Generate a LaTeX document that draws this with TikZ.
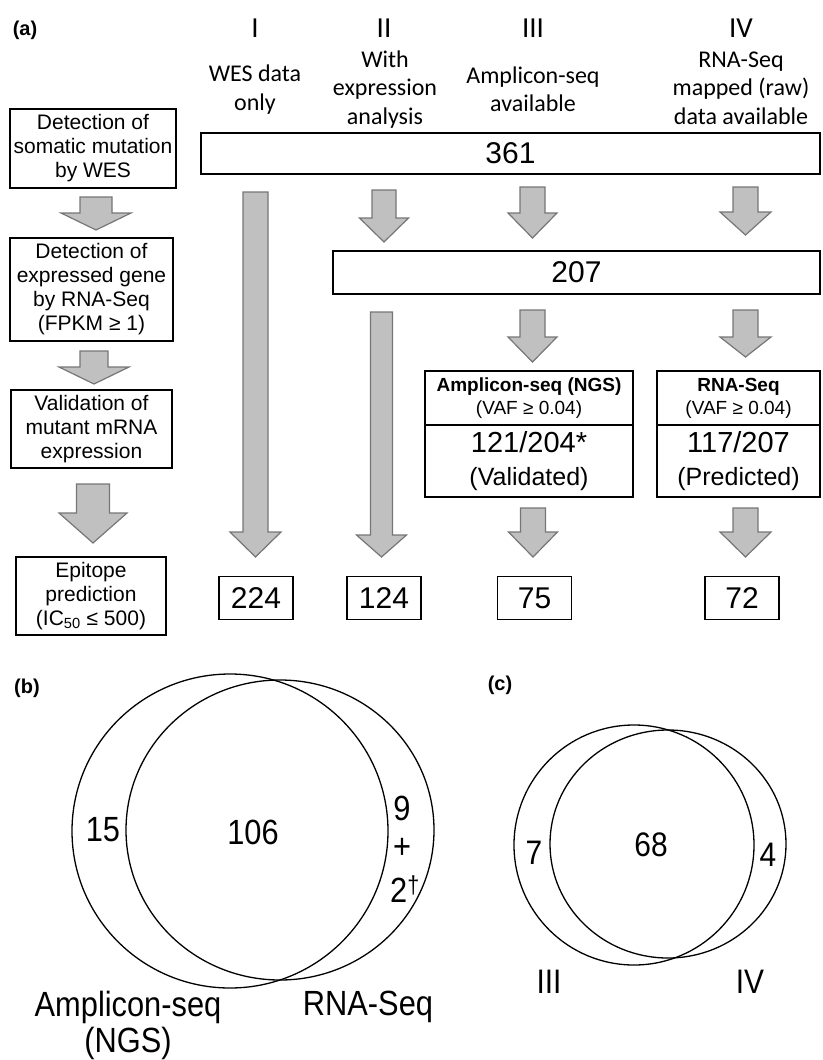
\documentclass[tikz,border=0pt]{standalone}
\usepackage{fontspec}
\setmainfont{Liberation Sans}
\newfontfamily\hdrfont{Carlito}
\newfontfamily\narrowfont[FakeStretch=0.88]{Liberation Sans}
\usetikzlibrary{shapes.geometric}
\definecolor{arrowFill}{HTML}{C0C0C0}
\definecolor{arrowLine}{HTML}{767676}

\tikzset{
  stepbox/.style={draw, line width=1.7pt, align=center, inner sep=0pt,
                  font=\fontsize{21}{24}\selectfont},
  countbox/.style={draw, line width=1.7pt, inner sep=0pt,
                   font=\fontsize{30}{34}\selectfont},
  hdr/.style={align=center, inner sep=0pt, font=\hdrfont\fontsize{24}{28.5}\selectfont},
  roman/.style={inner sep=0pt, font=\hdrfont\fontsize{29}{34}\selectfont},
  panel/.style={inner sep=0pt, font=\bfseries\fontsize{20}{24}\selectfont},
  vennlbl/.style={inner sep=0pt, font=\narrowfont\fontsize{35}{36}\selectfont},
  vennset/.style={ellipse, draw, line width=1.3pt, inner sep=0pt},
  fatarr/.style={fill=arrowFill, draw=arrowLine, line width=1.2pt, line join=miter},
}
% x, top, head start, tip, half shaft, half head
\newcommand{\fatarrow}[6]{%
  \draw[fatarr] ({#1-#5},#2) -- ({#1-#5},#3) -- ({#1-#6},#3) -- (#1,#4)
    -- ({#1+#6},#3) -- ({#1+#5},#3) -- ({#1+#5},#2) -- cycle;}

\begin{document}
\begin{tikzpicture}[x=1pt, y=-1pt]
  \useasboundingbox (0,0) rectangle (822,1060);

  % ---- (a) ----
  \node[panel] (pa) at (25,30) {(a)};

  \node[stepbox, minimum width=166, minimum height=79] (detWES) at (93,148.5)
    {Detection of\\somatic mutation\\by WES};
  \node[stepbox, minimum width=163, minimum height=103] (detRNA) at (91.5,289.5)
    {Detection of\\expressed gene\\by RNA-Seq\\(FPKM ≥ 1)};
  \node[stepbox, minimum width=161, minimum height=78] (validMut) at (91.5,429)
    {Validation of\\mutant mRNA\\expression};
  \node[stepbox, minimum width=150, minimum height=78] (epiPred) at (91,596)
    {Epitope\\prediction\\(IC\textsubscript{50} ≤ 500)};

  \foreach \x/\r in {255/I, 384/II, 533/III, 741/IV}
    \node[roman] (col\r) at (\x,28) {\r};
  \node[hdr] (hdrI)   at (255,89.5) {WES data\\only};
  \node[hdr] (hdrII)  at (385,89.5) {With\\expression\\analysis};
  \node[hdr] (hdrIII) at (533,89.5) {Amplicon-seq\\available};
  \node[hdr] (hdrIV)  at (741,88)   {RNA-Seq\\mapped (raw)\\data available};

  \node[countbox, minimum width=619, minimum height=41] (n361) at (510.5,153.5) {361};
  \node[countbox, minimum width=487, minimum height=43] (n207) at (576.5,272.5) {207};

  \node[stepbox, minimum width=208, minimum height=54, font=\fontsize{19}{23}\selectfont]
    (ampHead) at (529,398) {\textbf{Amplicon-seq (NGS)}\\(VAF ≥ 0.04)};
  \node[stepbox, minimum width=208, minimum height=72, font=\fontsize{25}{33}\selectfont]
    (ampVal) at (529,461) {{\fontsize{29}{33}\selectfont 121/204*}\\(Validated)};
  \node[stepbox, minimum width=163, minimum height=54, font=\fontsize{19}{23}\selectfont]
    (rnaHead) at (738.5,398) {\textbf{RNA-Seq}\\(VAF ≥ 0.04)};
  \node[stepbox, minimum width=163, minimum height=72, font=\fontsize{25}{33}\selectfont]
    (rnaPred) at (738.5,461) {{\fontsize{29}{33}\selectfont 117/207}\\(Predicted)};

  \foreach \x/\n in {256/224, 384/124, 534.5/75, 742/72}
    \node[countbox, minimum width=74, minimum height=43] (n\n) at (\x,598) {\n};

  % block arrows
  \foreach \x/\t/\h/\p/\s/\w in {
      96/197/213/230/16/35, 94/351/367/384/14/35, 93/484/513/543/16.5/34,
      255.5/192/532/557/12.5/25.5,
      384/190/218/242/12/24.5, 381.5/312/535/557/11/25,
      532.5/187/213/238/12.5/24.5, 532.5/310/337/362/12.5/24.5, 533/508/532/557/12.5/24.5,
      745.5/187/212/235/12.5/25.5, 745.5/310/337/357/12.5/25.5, 745.5/508/532/557/12.5/25.5}
    {\fatarrow{\x}{\t}{\h}{\p}{\s}{\w}}

  % ---- (b) ----
  \node[panel] (pb) at (27,688) {(b)};
  \node[vennset, minimum width=316, minimum height=314] (ampSet) at (230,831) {};
  \node[vennset, minimum width=308, minimum height=300] (rnaSet) at (280,830) {};
  \node[vennlbl] (bOnlyA) at (103,830) {15};
  \node[vennlbl] (bBoth)  at (253,832) {106};
  \node[vennlbl] (bOnlyR) at (402,808) {9};
  \node[vennlbl] (bPlus)  at (402,848) {+};
  \node[vennlbl] (bDag)   at (405,889) {2\textsuperscript{†}};
  \node[vennlbl, align=center] (bNameA) at (128,1025) {Amplicon-seq\\(NGS)};
  \node[vennlbl] (bNameR) at (368,1007) {RNA-Seq};

  % ---- (c) ----
  \node[panel] (pc) at (500,685) {(c)};
  \node[vennset, minimum width=240, minimum height=240] (setIII) at (634,845) {};
  \node[vennset, minimum width=236, minimum height=228] (setIV)  at (668,844) {};
  \node[vennlbl, font=\narrowfont\fontsize{34}{36}\selectfont] (cOnlyA) at (534,853) {7};
  \node[vennlbl, font=\narrowfont\fontsize{34}{36}\selectfont] (cBoth)  at (651,845) {68};
  \node[vennlbl, font=\narrowfont\fontsize{34}{36}\selectfont] (cOnlyB) at (768,855) {4};
  \node[vennlbl, font=\narrowfont\fontsize{34}{36}\selectfont] (cNameA) at (549,982) {III};
  \node[vennlbl, font=\narrowfont\fontsize{34}{36}\selectfont] (cNameB) at (750,982) {IV};
\end{tikzpicture}
\end{document}
